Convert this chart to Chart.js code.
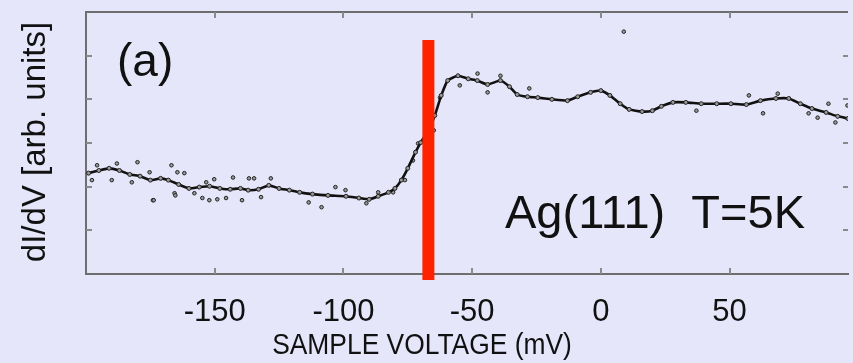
<!DOCTYPE html>
<html>
<head>
<meta charset="utf-8">
<script src="https://cdn.jsdelivr.net/npm/chart.js@4.4.1/dist/chart.umd.min.js"></script>
<style>
  html, body { margin: 0; padding: 0; background: #e6e6fa; }
  #wrap { width: 853px; height: 363px; }
</style>
</head>
<body>
<div id="wrap"><canvas id="stsChart" width="853" height="363"></canvas></div>
<script>
// smoothed dI/dV curve (mV, arb. units)
var voltage = [-199, -195, -191, -187, -183, -179, -175, -171, -168, -164, -160, -156, -152, -148,
  -144, -140, -137, -133, -129, -125, -121, -117, -112, -106, -99, -94, -90, -86.5, -82.5, -80,
  -77.5, -75, -72, -70, -67, -64.5, -62, -59.5, -55.5, -51.5, -48, -44, -39, -35.5, -32.5, -28.5,
  -24.5, -19, -13, -9, -4, 0, 3.5, 7.5, 11, 16, 20, 23.5, 28, 33, 39, 45, 50.5, 56.5, 62, 68, 73,
  77.5, 82, 87.5, 92, 96];
var didv = [2.31, 2.37, 2.42, 2.37, 2.28, 2.24, 2.15, 2.19, 2.15, 2.05, 1.96, 1.99, 2.01, 1.96,
  1.94, 1.96, 1.92, 1.94, 2.03, 1.96, 1.92, 1.87, 1.83, 1.80, 1.78, 1.74, 1.71, 1.78, 1.87, 1.96,
  2.15, 2.42, 2.79, 3.01, 3.29, 3.63, 4.09, 4.43, 4.54, 4.47, 4.43, 4.34, 4.43, 4.29, 4.11, 4.06,
  4.04, 4.00, 3.97, 4.06, 4.16, 4.20, 4.09, 3.90, 3.77, 3.72, 3.74, 3.84, 3.93, 3.93, 3.90, 3.90,
  3.90, 3.88, 3.97, 4.02, 4.02, 3.90, 3.79, 3.70, 3.61, 3.56];

// scattered raw measurement points
var dotV = [-197.7, -195.7, -190, -188, -182.2, -180, -175.3, -174, -173.7, -166.8, -165.6, -165.3,
  -164.5, -161.8, -157.9, -154.8, -153.3, -152.1, -150.2, -149, -145.6, -142.9, -139.4, -136.7,
  -134.7, -132, -128.2, -113.5, -108.5, -103.1, -99.2, -91.1, -86.5, -80.7, -76.1, -73, -71,
  -64.9, -62.5, -54.8, -47.9, -44, -39, -27.8, 8.9, 37.1, 57.5, 63, 68.7, 80.7, 84.2, 88.4, 91.1, 95.8];
var dotY = [2.15, 2.49, 2.15, 2.53, 2.10, 2.56, 2.33, 1.69, 1.69, 2.49, 1.85, 1.80,
  2.33, 2.31, 1.85, 1.74, 2.10, 1.69, 2.17, 1.71, 1.74, 2.21, 1.69, 2.19,
  2.19, 1.76, 2.19, 1.64, 1.53, 1.99, 1.92, 1.62, 1.87, 1.87, 2.15, 2.60, 2.99,
  3.29, 4.04, 4.32, 4.59, 4.16, 4.54, 4.25, 5.55, 3.74, 4.09, 3.68, 4.13, 3.68, 3.58, 3.90, 3.47, 3.86];

var edgeV = -67;              // marked onset of the surface state
var xTicks = [-150, -100, -50, 0, 50];
var yTicks = [1, 2, 3, 4, 5];

var FONT = "'Liberation Sans', Arial, sans-serif";

var framePlugin = {
  id: 'frame',
  afterDatasetsDraw: function(chart) {
    var ctx = chart.ctx, a = chart.chartArea;
    var xs = chart.scales.x, ys = chart.scales.y;
    ctx.save();
    // top frame line
    ctx.strokeStyle = '#6e6e6e';
    ctx.lineWidth = 2;
    ctx.beginPath();
    ctx.moveTo(a.left, a.top);
    ctx.lineTo(a.right, a.top);
    ctx.stroke();
    // inward ticks
    ctx.strokeStyle = '#8a8a8a';
    ctx.lineWidth = 2;
    ctx.beginPath();
    xTicks.forEach(function(v) {
      var px = Math.round(xs.getPixelForValue(v));
      ctx.moveTo(px, a.bottom); ctx.lineTo(px, a.bottom - 6);
      ctx.moveTo(px, a.top); ctx.lineTo(px, a.top + 6);
    });
    yTicks.forEach(function(v) {
      var py = Math.round(ys.getPixelForValue(v));
      ctx.moveTo(a.left, py); ctx.lineTo(a.left + 6, py);
      ctx.moveTo(a.right, py); ctx.lineTo(a.right - 5, py);
    });
    ctx.stroke();
    ctx.restore();
  },
  afterDraw: function(chart) {
    var ctx = chart.ctx, a = chart.chartArea;
    ctx.save();
    ctx.fillStyle = '#111';
    ctx.textBaseline = 'alphabetic';
    ctx.textAlign = 'left';
    ctx.font = '46px ' + FONT;
    ctx.fillText('(a)', a.left + 31, 76);
    ctx.font = '47px ' + FONT;
    ctx.fillText('Ag(111)  T=5K', 505, 228);

    // x axis title, slightly condensed
    ctx.save();
    ctx.translate(422, 354);
    ctx.scale(0.88, 1);
    ctx.textAlign = 'center';
    ctx.font = '30px ' + FONT;
    ctx.fillText('SAMPLE VOLTAGE (mV)', 0, 0);
    ctx.restore();

    // y axis title
    ctx.save();
    ctx.translate(36, 142);
    ctx.rotate(-Math.PI / 2);
    ctx.textAlign = 'center';
    ctx.textBaseline = 'middle';
    ctx.font = '33px ' + FONT;
    ctx.fillText('dI/dV [arb. units]', 0, 0);
    ctx.restore();
    ctx.restore();
  }
};

var ctx = document.getElementById('stsChart').getContext('2d');
var stsChart = new Chart(ctx, {
  type: 'line',
  data: {
    datasets: [{
      label: 'edge',
      data: [{x: edgeV, y: -0.14}, {x: edgeV, y: 5.36}],
      borderColor: '#ff2200',
      borderWidth: 12,
      borderCapStyle: 'butt',
      pointRadius: 0,
      clip: false,
      order: 0
    }, {
      label: 'dI/dV',
      data: voltage.map(function(v, i) { return {x: v, y: didv[i]}; }),
      borderColor: '#111',
      borderWidth: 2.6,
      tension: 0.15,
      pointRadius: 2,
      pointBorderWidth: 1,
      pointBorderColor: '#222',
      pointBackgroundColor: '#999',
      order: 1
    }, {
      label: 'raw',
      data: dotV.map(function(v, i) { return {x: v, y: dotY[i]}; }),
      showLine: false,
      pointRadius: 1.8,
      pointBorderWidth: 1,
      pointBorderColor: '#222',
      pointBackgroundColor: '#999',
      order: 2
    }]
  },
  options: {
    responsive: false,
    animation: false,
    layout: { padding: { top: 12, right: 0, left: 0, bottom: 0 } },
    plugins: {
      legend: { display: false },
      tooltip: { enabled: false }
    },
    scales: {
      x: {
        type: 'linear',
        min: -200,
        max: 96,
        afterBuildTicks: function(scale) {
          scale.ticks = xTicks.map(function(v) { return {value: v}; });
        },
        afterFit: function(scale) { scale.height = 89; },
        grid: { display: false, drawTicks: false },
        border: { display: true, color: '#6e6e6e', width: 2 },
        ticks: {
          padding: 20,
          color: '#111',
          font: { family: FONT, size: 31 },
          maxRotation: 0,
          autoSkip: false
        }
      },
      y: {
        type: 'linear',
        min: 0,
        max: 6,
        afterFit: function(scale) { scale.width = 86; },
        grid: { display: false, drawTicks: false },
        border: { display: true, color: '#6e6e6e', width: 2 },
        ticks: { display: false }
      }
    }
  },
  plugins: [framePlugin]
});
</script>
</body>
</html>
